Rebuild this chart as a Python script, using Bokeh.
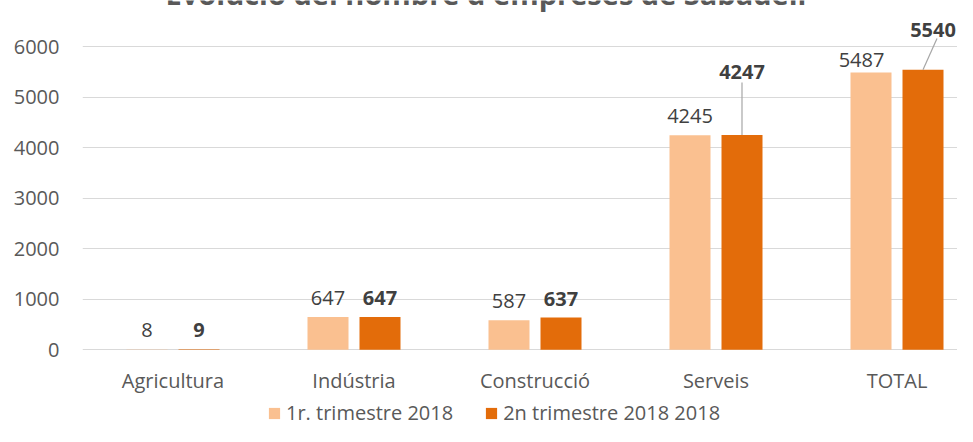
from bokeh.plotting import figure
from bokeh.models import ColumnDataSource, FixedTicker, Range1d, Legend, LegendItem, Label
from bokeh.core.properties import value
from bokeh.embed import file_html
from bokeh.resources import INLINE

# ---------------- data ----------------
categories = ["Agricultura", "Indústria", "Construcció", "Serveis", "TOTAL"]
q1_2018 = [8, 647, 587, 4245, 5487]
q2_2018 = [9, 647, 637, 4247, 5540]
series_names = ["1r. trimestre 2018", "2n trimestre 2018 2018"]
y_ticks = [0, 1000, 2000, 3000, 4000, 5000, 6000]
title_text = "Evolució del nombre d'empreses de Sabadell"

# ---------------- layout / style ----------------
W, H = 957, 426
ML = 82                      # frame left edge (px)
ZERO_Y = 349.3               # pixel row of value 0 (from top)
frame_w = W - ML
frame_h = H
PX_PER_CAT = 181.0
PX_PER_UNIT = 50.55 / 1000.0
x_end = frame_w / PX_PER_CAT
y_end = ZERO_Y / PX_PER_UNIT
y_start = -(H - ZERO_Y) / PX_PER_UNIT

FONT = "Open Sans"
LIGHT = "#FAC090"
DARK = "#E36C0A"
TICK_COLOR = "#595959"
LABEL_COLOR = "#404040"
GRID = "#D9D9D9"

BAR_W = 41 / PX_PER_CAT
BAR_OFF = 26 / PX_PER_CAT

# label nudges in pixels (dx right, dy down); default sits 19px above bar
DEFAULT_NUDGE = (0, -19)
label_nudge = {
    (0, "TOTAL"): (-9.5, -12),
    (1, "Serveis"): (0, -63.6),
    (1, "TOTAL"): (10, -40),
}
# leader lines: from bar top to (dx, dy up) pixels
leaders = {
    (1, "Serveis"): (0, 52.6),
    (1, "TOTAL"): (14, 31.3),
}

p = figure(width=W, height=H, x_range=Range1d(0, x_end), y_range=Range1d(y_start, y_end),
           output_backend="svg", toolbar_location=None, tools="")
p.min_border = 0
p.min_border_left = ML
p.min_border_bottom = 0
p.min_border_top = 0
p.min_border_right = 0
p.outline_line_color = None
p.background_fill_color = "white"
p.border_fill_color = "white"

renderers = []
for si, (vals, color) in enumerate([(q1_2018, LIGHT), (q2_2018, DARK)]):
    sign = -1 if si == 0 else 1
    xs = [i + 0.5 + sign * BAR_OFF for i in range(len(categories))]
    src = ColumnDataSource(dict(x=xs, top=vals))
    r = p.vbar(x="x", top="top", width=BAR_W, bottom=0, source=src,
               fill_color=color, line_color=None)
    renderers.append(r)

    # leader lines
    x0s, y0s, x1s, y1s = [], [], [], []
    for i, c in enumerate(categories):
        if (si, c) in leaders:
            dx, dy = leaders[(si, c)]
            x0s.append(xs[i]); y0s.append(vals[i])
            x1s.append(xs[i] + dx / PX_PER_CAT); y1s.append(vals[i] + dy / PX_PER_UNIT)
    if x0s:
        p.segment(x0=x0s, y0=y0s, x1=x1s, y1=y1s, line_color="#A6A6A6", line_width=1.2)

    xo, yo = [], []
    for c in categories:
        dx, dy = label_nudge.get((si, c), DEFAULT_NUDGE)
        xo.append(dx); yo.append(dy)
    lsrc = ColumnDataSource(dict(x=xs, y=vals, t=[str(v) for v in vals], xo=xo, yo=yo))
    p.text(x="x", y="y", text="t", x_offset="xo", y_offset="yo", source=lsrc,
           text_align="center", text_baseline="alphabetic",
           text_font=value(FONT), text_font_size="20px", text_color=LABEL_COLOR,
           text_font_style="bold" if si == 1 else "normal")

# grid
p.xgrid.visible = False
p.ygrid.ticker = FixedTicker(ticks=y_ticks)
p.ygrid.grid_line_color = GRID
p.ygrid.grid_line_width = 1

# y axis
p.yaxis.ticker = FixedTicker(ticks=y_ticks)
p.yaxis.axis_line_color = None
p.yaxis.major_tick_line_color = None
p.yaxis.minor_tick_line_color = None
p.yaxis.major_tick_out = 0
p.yaxis.major_tick_in = 0
p.yaxis.major_label_standoff = 23
p.yaxis.major_label_text_font = FONT
p.yaxis.major_label_text_font_size = "20px"
p.yaxis.major_label_text_color = TICK_COLOR

# x axis (pinned to value 0)
cat_pos = [i + 0.5 for i in range(len(categories))]
p.xaxis.fixed_location = 0
p.xaxis.ticker = FixedTicker(ticks=cat_pos)
p.xaxis.major_label_overrides = {pos: c for pos, c in zip(cat_pos, categories)}
p.xaxis.axis_line_color = None
p.xaxis.major_tick_line_color = None
p.xaxis.minor_tick_line_color = None
p.xaxis.major_tick_out = 0
p.xaxis.major_tick_in = 0
p.xaxis.major_label_standoff = 17
p.xaxis.major_label_text_font = FONT
p.xaxis.major_label_text_font_size = "20px"
p.xaxis.major_label_text_color = TICK_COLOR

# title (partly cut at the top edge, as in the reference)
p.add_layout(Label(x=403.5, y=frame_h + 7, x_units="screen", y_units="screen",
                   text=title_text, text_align="center", text_baseline="alphabetic",
                   text_font=FONT, text_font_size="29px", text_font_style="bold",
                   text_color=TICK_COLOR))

legend = Legend(items=[LegendItem(label=series_names[0], renderers=[renderers[0]]),
                       LegendItem(label=series_names[1], renderers=[renderers[1]])],
                location=(185, 0), orientation="horizontal",
                label_text_font=FONT, label_text_font_size="20px",
                label_text_color=TICK_COLOR, glyph_width=14, glyph_height=14,
                label_standoff=5, spacing=31, padding=0, margin=0,
                border_line_color=None, background_fill_alpha=0)
p.add_layout(legend)

open("out.html", "w").write(file_html(p, INLINE))
